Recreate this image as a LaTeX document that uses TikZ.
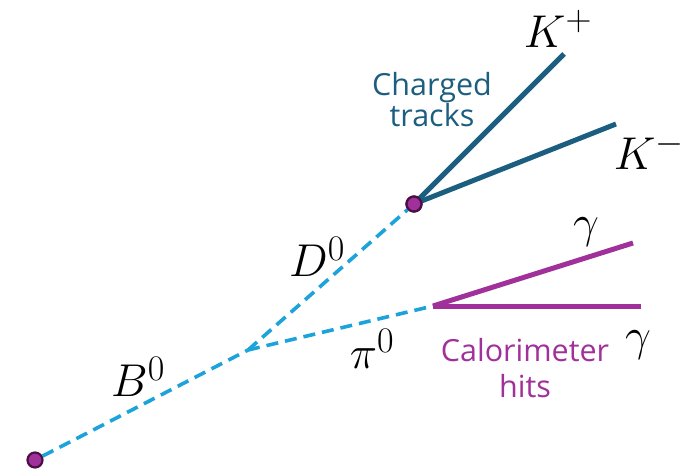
\RequirePackage{fix-cm}
\documentclass[tikz,border=0pt]{standalone}
\usepackage{fontspec}
\newfontfamily\labelfont{Open Sans}
\newcommand{\bigsupscript}[1]{\hbox{\fontsize{36}{36}\selectfont$#1$}}
\definecolor{trackteal}{HTML}{1B5E80}
\definecolor{dashblue}{HTML}{1CA3DA}
\definecolor{calpurple}{HTML}{A0309A}
\definecolor{dotedge}{HTML}{4A0F45}
\begin{document}
\begin{tikzpicture}[x=1pt,y=-1pt,
  vtx/.style={circle,draw=dotedge,fill=calpurple,line width=2.2pt,minimum size=15pt,inner sep=0pt},
  neutral/.style={dashblue,line width=3.6pt,dash pattern=on 12pt off 7pt},
  charged/.style={trackteal,line width=5pt},
  photon/.style={calpurple,line width=5pt},
  mlabel/.style={font=\fontsize{46}{52}\selectfont,inner sep=0pt},
  tlabel/.style={font=\labelfont\fontsize{30.5}{31}\selectfont,align=center,inner sep=0pt}]
\useasboundingbox (0,0) rectangle (689,472);
\coordinate (br) at (248,350);
\coordinate (pi) at (433,306);
\coordinate (kp) at (564,54);
\coordinate (km) at (616,124);
\coordinate (g1) at (633,243);
\coordinate (g2) at (641,306);
\node[vtx] (bv) at (35,460) {};
\node[vtx] (dv) at (414,204) {};
\draw[neutral] (bv) -- (br);
\draw[neutral] (br) -- (dv);
\draw[neutral] (br) -- (pi);
\draw[charged] (dv.center) -- (kp);
\draw[charged] (dv.center) -- (km);
\node[vtx] at (dv) {};
\draw[photon] (pi) -- (g1);
\draw[photon] (pi) -- (g2);
\node[mlabel] (lkp) at (558,29) {$K^{\bigsupscript{+}}$};
\node[mlabel] (lkm) at (649,151) {$K^{\bigsupscript{-}}$};
\node[mlabel] (lg1) at (586,232) {$\gamma$};
\node[mlabel] (lg2) at (638,345) {$\gamma$};
\node[mlabel] (ld) at (317,257) {$D^{\bigsupscript{0}}$};
\node[mlabel] (lpi) at (372,349) {$\pi^{\bigsupscript{0}}$};
\node[mlabel] (lb) at (138,377) {$B^{\bigsupscript{0}}$};
\node[tlabel,text=trackteal] (ct) at (432,100) {Charged\\tracks};
\node[tlabel,text=calpurple,font=\labelfont\fontsize{30.5}{36}\selectfont] (ch) at (525,368) {Calorimeter\\hits};
\end{tikzpicture}
\end{document}
